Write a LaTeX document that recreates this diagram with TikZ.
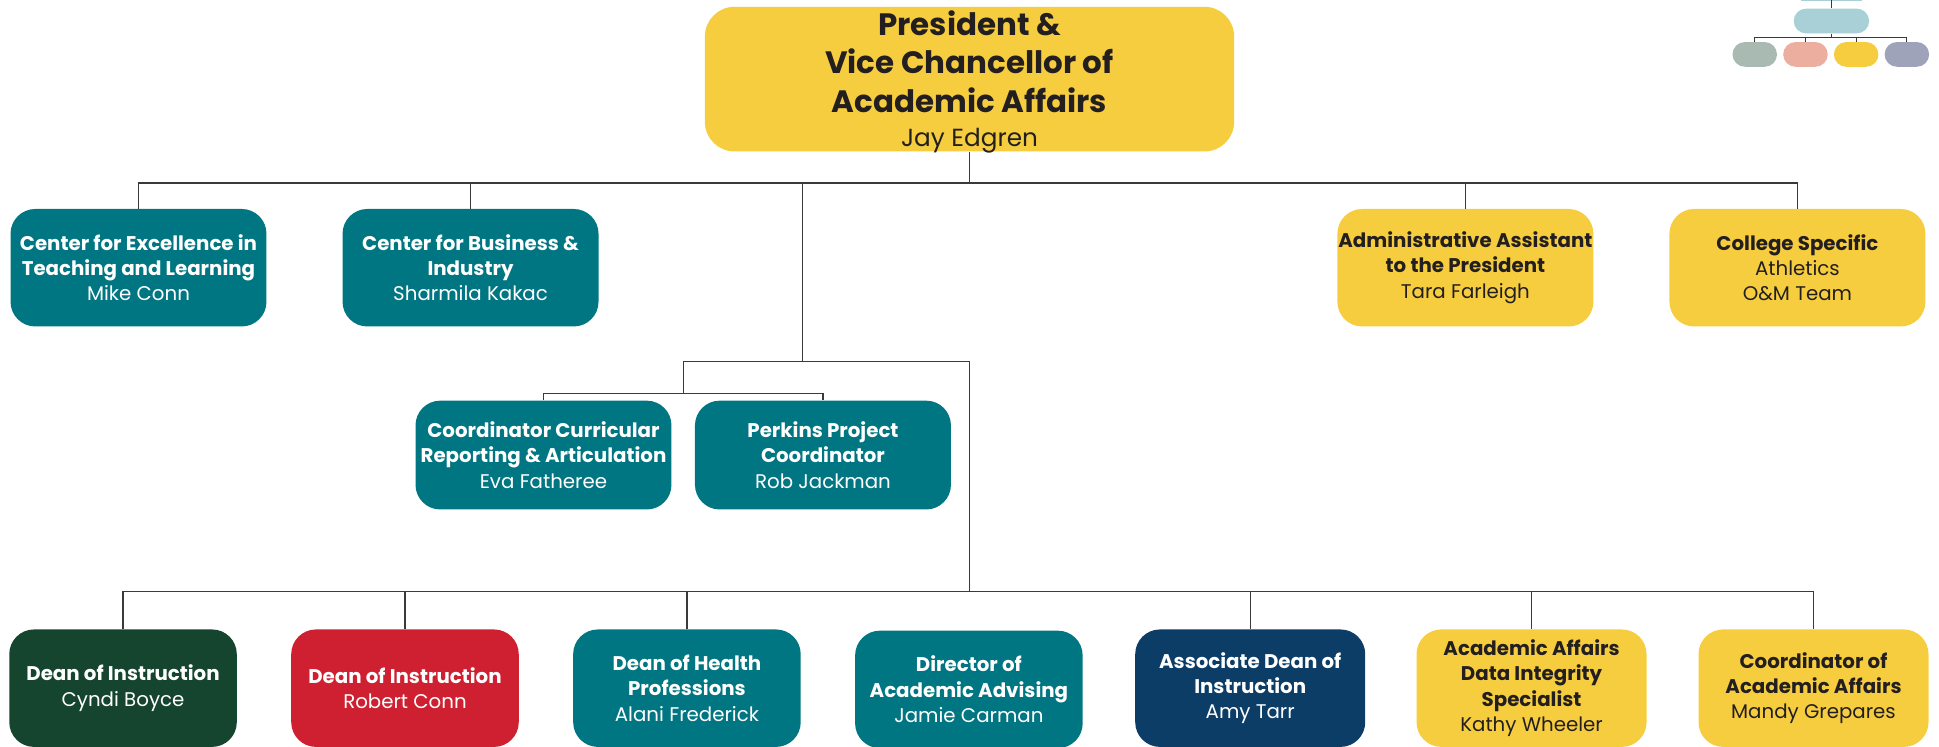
\documentclass[tikz,border=0pt]{standalone}
\usepackage{fontspec}
\setmainfont{Poppins}
\definecolor{teal1}{HTML}{007682}
\definecolor{yel}{HTML}{F6CD3F}
\definecolor{dgreen}{HTML}{15452F}
\definecolor{red1}{HTML}{CE2030}
\definecolor{navy}{HTML}{0C3D66}
\definecolor{ink}{HTML}{231F20}
\definecolor{lnc}{HTML}{3A3A3A}
\definecolor{lgblue}{HTML}{A8D0D6}
\definecolor{lgsage}{HTML}{A9BAB3}
\definecolor{lgsalmon}{HTML}{ECAE9E}
\definecolor{lglav}{HTML}{9FA3BA}
\begin{document}
\begin{tikzpicture}[x=1pt,y=-1pt,
  box/.style={rounded corners=20pt, inner sep=0pt, align=center,
    minimum width=207pt, minimum height=95pt,
    font=\fontsize{16}{20.5}\selectfont, text=white},
  boxt/.style={box, fill=teal1},
  boxy/.style={box, fill=yel, text=ink},
  dbox/.style={box, minimum width=184pt},
  conn/.style={draw=lnc, line width=0.9pt},
  lgl/.style={draw=lnc, line width=0.7pt}
]
\useasboundingbox (0,0) rectangle (1568,604);

% top
\node[box, fill=yel, text=ink, minimum width=428pt, minimum height=117pt,
  rounded corners=24pt, font=\fontsize{25}{31}\selectfont] (P) at (784,64) {};
\node[align=center, inner sep=0pt, text=ink, font=\fontsize{25}{31}\selectfont] (Pt) at (784,66.5)
  {\textbf{President \&}\\\textbf{Vice Chancellor of}\\\textbf{Academic Affairs}\\[-3pt]{\fontsize{20}{24}\selectfont Jay Edgren}};

% level 1
\node[boxt] (c1) at (112,216.5) {\textbf{Center for Excellence in}\\\textbf{Teaching and Learning}\\Mike Conn};
\node[boxt] (c2) at (380.5,216.5) {\textbf{Center for Business \&}\\\textbf{Industry}\\Sharmila Kakac};
\node[boxy] (adm) at (1185,216.5) {\textbf{Administrative Assistant}\\\textbf{to the President}\\Tara Farleigh};
\node[boxy] (col) at (1453.5,216.5) {\textbf{College Specific}\\Athletics\\O\&M Team};

% level 2
\node[boxt, minimum height=88pt] (coord) at (439.5,368) {\textbf{Coordinator Curricular}\\\textbf{Reporting \& Articulation}\\Eva Fatheree};
\node[boxt, minimum height=88pt] (perk) at (665.5,368) {\textbf{Perkins Project}\\\textbf{Coordinator}\\Rob Jackman};

% level 3
\node[dbox, fill=dgreen] (d1) at (99.5,556.5) {\textbf{Dean of Instruction}\\Cyndi Boyce};
\node[dbox, fill=red1] (d2) at (327.5,556.5) {\textbf{Dean of Instruction}\\Robert Conn};
\node[dbox, fill=teal1] (d3) at (555.5,556.5) {\textbf{Dean of Health}\\\textbf{Professions}\\Alani Frederick};
\node[dbox, fill=teal1] (d4) at (783.5,557.5) {\textbf{Director of}\\\textbf{Academic Advising}\\Jamie Carman};
\node[dbox, fill=navy, minimum width=186pt] (d5) at (1011,556.5) {\textbf{Associate Dean of}\\\textbf{Instruction}\\Amy Tarr};
\node[dbox, fill=yel, text=ink, minimum width=186pt] (d6) at (1238.5,556.5) {\textbf{Academic Affairs}\\\textbf{Data Integrity}\\\textbf{Specialist}\\Kathy Wheeler};
\node[dbox, fill=yel, text=ink, minimum width=186pt] (d7) at (1466.5,556.5) {\textbf{Coordinator of}\\\textbf{Academic Affairs}\\Mandy Grepares};

% connectors
\coordinate (j1) at (784,148);
\coordinate (j2) at (649,292);
\coordinate (j3) at (553,292);
\coordinate (m) at (553,318);
\coordinate (k) at (784,478);
\draw[conn] (P.south) -- (j1);
\draw[conn] (c1.north) |- (j1) -| (col.north);
\draw[conn] (c2.north) -- (c2.north |- j1);
\draw[conn] (adm.north) -- (adm.north |- j1);
\draw[conn] (j2 |- j1) -- (j2);
\draw[conn] (j3) -| (k);
\draw[conn] (j3) -- (m);
\draw[conn] (coord.north) |- (m) -| (perk.north);
\draw[conn] (d1.north) |- (k) -| (d7.north);
\foreach \n in {d2,d3,d5,d6} \draw[conn] (\n.north) -- (\n.north |- k);

% legend
\fill[lgblue] (1456,-10) rectangle (1506,0.6);
\node[fill=lgblue, rounded corners=10pt, minimum width=61pt, minimum height=20pt, inner sep=0pt] (L0) at (1481,17) {};
\coordinate (lt) at (1481,0);
\coordinate (lb) at (1481,30);
\node[fill=lgsage, rounded corners=10pt, minimum width=36pt, minimum height=20pt, inner sep=0pt] (L1) at (1419,44) {};
\node[fill=lgsalmon, rounded corners=10pt, minimum width=36pt, minimum height=20pt, inner sep=0pt] (L2) at (1460,44) {};
\node[fill=yel, rounded corners=10pt, minimum width=36pt, minimum height=20pt, inner sep=0pt] (L3) at (1501,44) {};
\node[fill=lglav, rounded corners=10pt, minimum width=36pt, minimum height=20pt, inner sep=0pt] (L4) at (1542,44) {};
\draw[lgl] (lt) -- (L0.north);
\draw[lgl] (L0.south) -- (lb);
\draw[lgl] (L1.north) |- (lb) -| (L4.north);
\draw[lgl] (L2.north) -- (L2.north |- lb);
\draw[lgl] (L3.north) -- (L3.north |- lb);
\end{tikzpicture}
\end{document}
